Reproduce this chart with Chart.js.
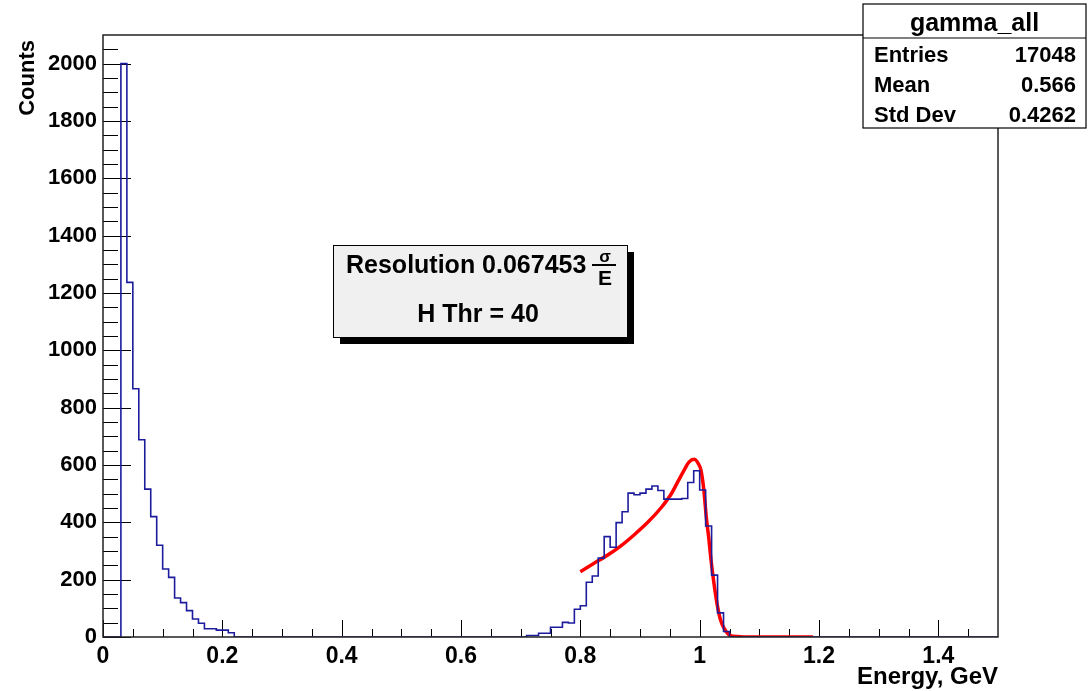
<!DOCTYPE html>
<html>
<head>
  <meta charset="UTF-8" />
  <title>gamma_all</title>
  <script src="https://cdn.jsdelivr.net/npm/chart.js"></script>
  <style>
    html, body { margin: 0; padding: 0; background: #fff; }
    #wrap { width: 1088px; height: 691px; position: relative; }
  </style>
</head>
<body>
  <div id="wrap"><canvas id="chart"></canvas></div>

  <script>
    // histogram: 150 bins of 0.01 GeV from 0 to 1.5
    const binWidth = 0.01;
    const counts = [
      0, 0, 0, 2000, 1237, 866, 688, 516, 420, 320,
      237, 208, 136, 120, 92, 63, 48, 29, 29, 24,
      24, 15, 0, 0, 0, 0, 0, 0, 0, 0,
      0, 0, 0, 0, 0, 0, 0, 0, 0, 0,
      0, 0, 0, 0, 0, 0, 0, 0, 0, 0,
      0, 0, 0, 0, 0, 0, 0, 0, 0, 0,
      0, 0, 0, 0, 0, 0, 0, 0, 0, 0,
      0, 5, 5, 13, 13, 34, 34, 51, 49, 97,
      109, 191, 213, 275, 350, 313, 399, 437, 502, 496,
      502, 516, 527, 511, 481, 481, 481, 483, 539, 580,
      513, 387, 216, 84, 19, 0, 0, 0, 0, 0,
      0, 0, 0, 0, 0, 0, 0, 0, 0, 0,
      0, 0, 0, 0, 0, 0, 0, 0, 0, 0,
      0, 0, 0, 0, 0, 0, 0, 0, 0, 0,
      0, 0, 0, 0, 0, 0, 0, 0, 0, 0
    ];

    // fitted curve
    const fitE = [0.80, 0.823, 0.846, 0.868, 0.890, 0.913, 0.935, 0.952, 0.963, 0.974,
                  0.982, 0.991, 0.999, 1.002, 1.007, 1.011, 1.015, 1.019, 1.024, 1.030,
                  1.035, 1.041, 1.048, 1.055, 1.10, 1.15, 1.19];
    const fitN = [228, 257, 286, 318, 356, 400, 450, 498, 540, 582,
                  610, 620, 600, 583, 513, 420, 350, 269, 187, 106,
                  59, 30, 10, 3, 0, 0, 0];

    const xTicks = [0, 0.2, 0.4, 0.6, 0.8, 1, 1.2, 1.4];
    const yTicks = [0, 200, 400, 600, 800, 1000, 1200, 1400, 1600, 1800, 2000];

    const statLabels = ['Entries', 'Mean', 'Std Dev'];
    const statValues = ['17048', '0.566', '0.4262'];

    const histPoints = counts.map((c, i) => ({ x: +(i * binWidth).toFixed(2), y: c }));
    histPoints.push({ x: 1.5, y: counts[counts.length - 1] });
    const fitPoints = fitE.map((e, i) => ({ x: e, y: fitN[i] }));

    const FONT = '"Liberation Sans", Arial, sans-serif';

    const rootDecor = {
      id: 'rootDecor',
      beforeDatasetsDraw(chart) {
        const { ctx, chartArea: a, scales: { x, y } } = chart;
        ctx.save();
        ctx.strokeStyle = '#000';
        ctx.lineWidth = 1;
        // minor + major ticks, pointing inward
        for (let v = 0; v <= 2050; v += 50) {
          const py = Math.round(y.getPixelForValue(v)) + 0.5;
          const len = v % 200 === 0 ? 28 : 15;
          ctx.beginPath(); ctx.moveTo(a.left, py); ctx.lineTo(a.left + len, py); ctx.stroke();
        }
        for (let k = 0; k <= 29; k++) {
          const v = k * 0.05;
          const px = Math.round(x.getPixelForValue(v)) + 0.5;
          const len = k % 4 === 0 ? 17 : 8;
          ctx.beginPath(); ctx.moveTo(px, a.bottom); ctx.lineTo(px, a.bottom - len); ctx.stroke();
        }
        ctx.restore();
      },
      afterDatasetsDraw(chart) {
        const { ctx, chartArea: a } = chart;
        ctx.save();
        // frame
        ctx.strokeStyle = '#222';
        ctx.lineWidth = 1.5;
        ctx.strokeRect(a.left, a.top, a.right - a.left, a.bottom - a.top);

        // axis titles
        ctx.fillStyle = '#000';
        ctx.font = 'bold 24px ' + FONT;
        ctx.textAlign = 'right';
        ctx.textBaseline = 'alphabetic';
        ctx.fillText('Energy, GeV', a.right, 684);
        ctx.font = 'bold 22px ' + FONT;
        ctx.save();
        ctx.translate(34, 40);
        ctx.rotate(-Math.PI / 2);
        ctx.fillText('Counts', 0, 0);
        ctx.restore();

        // stats box
        const sx = 863, sy = 4, sw = 223, sh = 124;
        ctx.fillStyle = '#fff';
        ctx.fillRect(sx, sy, sw, sh);
        ctx.strokeStyle = '#000';
        ctx.lineWidth = 1.2;
        ctx.strokeRect(sx, sy, sw, sh);
        ctx.beginPath(); ctx.moveTo(sx, 38); ctx.lineTo(sx + sw, 38); ctx.stroke();
        ctx.fillStyle = '#000';
        ctx.font = 'bold 25px ' + FONT;
        ctx.textAlign = 'center';
        ctx.fillText('gamma_all', sx + sw / 2, 31);
        ctx.font = 'bold 22px ' + FONT;
        statLabels.forEach((lab, i) => {
          const by = 62 + i * 30;
          ctx.textAlign = 'left';
          ctx.fillText(lab, sx + 11, by);
          ctx.textAlign = 'right';
          ctx.fillText(statValues[i], sx + sw - 10, by);
        });

        // resolution box with shadow
        const bx = 333, by = 245, bw = 294, bh = 92;
        ctx.fillStyle = '#000';
        ctx.fillRect(bx + 7, by + 7, bw, bh);
        ctx.fillStyle = '#f0f0f0';
        ctx.fillRect(bx, by, bw, bh);
        ctx.strokeStyle = '#000';
        ctx.lineWidth = 1;
        ctx.strokeRect(bx + 0.5, by + 0.5, bw, bh);
        ctx.fillStyle = '#000';
        ctx.font = 'bold 25px ' + FONT;
        ctx.textAlign = 'left';
        ctx.fillText('Resolution 0.067453', 346, 273);
        ctx.font = 'bold 17px ' + FONT;
        ctx.textAlign = 'center';
        ctx.fillText('\u03c3', 605, 262);
        ctx.fillRect(592, 264, 24, 2);
        ctx.font = 'bold 21px ' + FONT;
        ctx.fillText('E', 605, 285);
        ctx.font = 'bold 25px ' + FONT;
        ctx.fillText('H Thr = 40', 478, 322);
        ctx.restore();
      }
    };

    new Chart(document.getElementById('chart'), {
      type: 'line',
      data: {
        datasets: [
          {
            label: 'gamma_all',
            data: histPoints,
            stepped: 'before',
            borderColor: '#1c1c9c',
            borderWidth: 1.6,
            pointRadius: 0,
            fill: false
          },
          {
            label: 'fit',
            data: fitPoints,
            borderColor: '#ff0000',
            borderWidth: 3.5,
            pointRadius: 0,
            cubicInterpolationMode: 'monotone',
            fill: false
          }
        ]
      },
      options: {
        responsive: true,
        maintainAspectRatio: false,
        animation: false,
        layout: { padding: { top: 35, right: 90, left: 0, bottom: 0 } },
        plugins: { legend: { display: false }, tooltip: { enabled: false } },
        scales: {
          x: {
            type: 'linear',
            min: 0,
            max: 1.5,
            grid: { display: false, drawTicks: false },
            border: { display: false },
            afterBuildTicks: s => { s.ticks = xTicks.map(v => ({ value: v })); },
            afterFit: s => { s.height = 54; },
            ticks: {
              color: '#000',
              padding: 6,
              maxRotation: 0,
              font: { family: FONT, weight: 'bold', size: 23 },
              callback: v => String(v)
            }
          },
          y: {
            type: 'linear',
            min: 0,
            max: 2100,
            grid: { display: false, drawTicks: false },
            border: { display: false },
            afterBuildTicks: s => { s.ticks = yTicks.map(v => ({ value: v })); },
            afterFit: s => { s.width = 103; },
            ticks: {
              color: '#000',
              padding: 6,
              font: { family: FONT, weight: 'bold', size: 22 },
              callback: v => String(v)
            }
          }
        }
      },
      plugins: [rootDecor]
    });
  </script>
</body>
</html>
